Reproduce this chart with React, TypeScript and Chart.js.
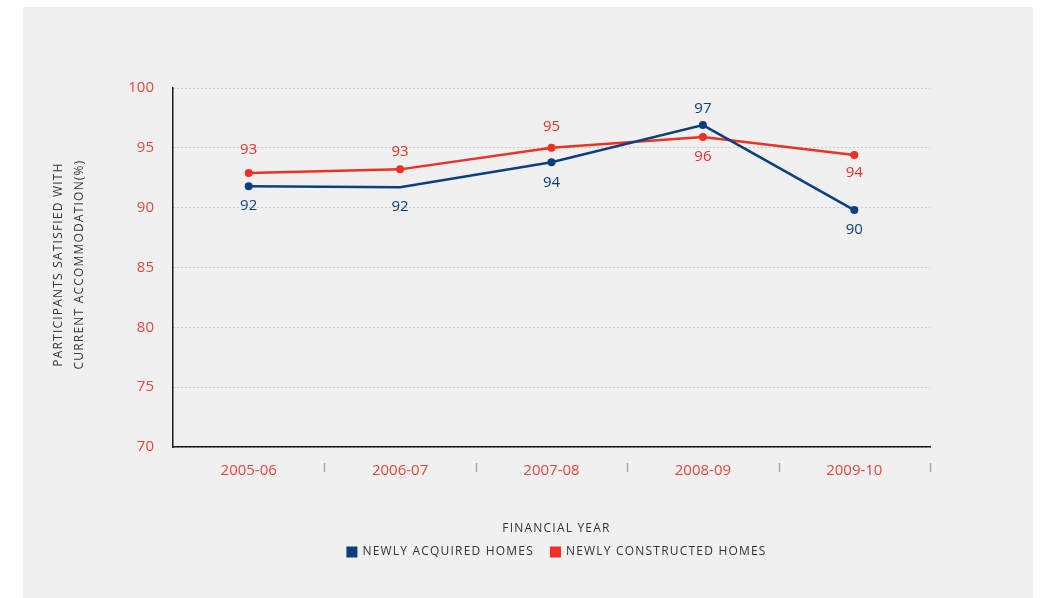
import React, { useEffect, useRef } from "react";
import { Chart, registerables } from "chart.js";

Chart.register(...registerables);

const categories = ["2005-06", "2006-07", "2007-08", "2008-09", "2009-10"];
const acquiredValues = [91.8, 91.7, 93.8, 96.9, 89.8];
const constructedValues = [92.9, 93.2, 95.0, 95.9, 94.4];
const acquiredLabels = ["92", "92", "94", "97", "90"];
const constructedLabels = ["93", "93", "95", "96", "94"];
const yTicks = [70, 75, 80, 85, 90, 95, 100];
const seriesNames = ["NEWLY ACQUIRED HOMES", "NEWLY CONSTRUCTED HOMES"];
const yTitleLines = ["PARTICIPANTS SATISFIED WITH", "CURRENT ACCOMMODATION(%)"];
const xTitle = "FINANCIAL YEAR";

// style: label offsets in pixels (negative = above the point), marker sizes
const acquiredLabelOffset = [20, 19, 21, -16, 20];
const constructedLabelOffset = [-23, -18, -21, 20, 18];
const acquiredPointRadius = [4, 0, 4, 4, 4];

const BLUE = "#0b3f7f";
const RED = "#ee3124";
const TICK_RED = "#e8453c";
const FONT = "'Open Sans', 'Noto Sans', sans-serif";

const extrasPlugin = {
  id: "extras",
  afterDatasetsDraw(chart: any) {
    const ctx = chart.ctx;
    const labelsets = [
      { labels: acquiredLabels, off: acquiredLabelOffset, color: BLUE },
      { labels: constructedLabels, off: constructedLabelOffset, color: RED },
    ];
    ctx.save();
    ctx.font = `15px ${FONT}`;
    ctx.textAlign = "center";
    ctx.textBaseline = "middle";
    chart.data.datasets.forEach((ds: any, di: number) => {
      const meta = chart.getDatasetMeta(di);
      const ls = labelsets[di];
      meta.data.forEach((pt: any, i: number) => {
        ctx.fillStyle = ls.color;
        ctx.fillText(ls.labels[i], pt.x, pt.y + ls.off[i]);
      });
    });
    ctx.restore();
  },
  afterDraw(chart: any) {
    const ctx = chart.ctx;
    const area = chart.chartArea;
    const xs = chart.scales.x;
    ctx.save();
    // separators between categories
    ctx.strokeStyle = "#a8a8a8";
    ctx.lineWidth = 1.5;
    for (let i = 0; i < categories.length; i++) {
      const x =
        i < categories.length - 1
          ? (xs.getPixelForValue(i) + xs.getPixelForValue(i + 1)) / 2
          : area.right;
      ctx.beginPath();
      ctx.moveTo(Math.round(x) + 0.5, area.bottom + 16);
      ctx.lineTo(Math.round(x) + 0.5, area.bottom + 25);
      ctx.stroke();
    }
    // y title
    ctx.fillStyle = "#333";
    ctx.font = `12px ${FONT}`;
    (ctx as any).letterSpacing = "1.2px";
    ctx.textAlign = "center";
    ctx.textBaseline = "middle";
    const cy = (area.top + area.bottom) / 2 - 3;
    ctx.save();
    ctx.translate(36, cy);
    ctx.rotate(-Math.PI / 2);
    ctx.fillText(yTitleLines[0], 0, 0);
    ctx.restore();
    ctx.save();
    ctx.translate(57, cy);
    ctx.rotate(-Math.PI / 2);
    ctx.fillText(yTitleLines[1], 0, 0);
    ctx.restore();
    // x title
    const cx = (area.left + area.right) / 2 + 5;
    ctx.fillText(xTitle, cx, area.bottom + 82);
    // legend
    const box = 11;
    const gapBoxText = 5;
    const gapItems = 16;
    const widths = seriesNames.map((s) => ctx.measureText(s).width);
    const total = widths.reduce((a, w) => a + box + gapBoxText + w, 0) + gapItems;
    let x = cx - total / 2;
    const ly = area.bottom + 105;
    const colors = [BLUE, RED];
    ctx.textAlign = "left";
    seriesNames.forEach((s, i) => {
      ctx.fillStyle = colors[i];
      ctx.fillRect(x, ly - box / 2, box, box);
      x += box + gapBoxText;
      ctx.fillStyle = "#333";
      ctx.fillText(s, x, ly);
      x += widths[i] + gapItems;
    });
    ctx.restore();
  },
};

export default function App() {
  const ref = useRef<HTMLCanvasElement>(null);
  useEffect(() => {
    document.body.style.margin = "0";
    document.body.style.background = "#ffffff";
    const chart = new Chart(ref.current as HTMLCanvasElement, {
      type: "line",
      data: {
        labels: categories,
        datasets: [
          {
            label: seriesNames[0],
            data: acquiredValues,
            borderColor: BLUE,
            backgroundColor: BLUE,
            borderWidth: 2.5,
            pointRadius: acquiredPointRadius,
            pointHoverRadius: acquiredPointRadius,
            pointBackgroundColor: BLUE,
            pointBorderWidth: 0,
            tension: 0,
          },
          {
            label: seriesNames[1],
            data: constructedValues,
            borderColor: RED,
            backgroundColor: RED,
            borderWidth: 2.5,
            pointRadius: 4,
            pointBackgroundColor: RED,
            pointBorderWidth: 0,
            tension: 0,
          },
        ],
      },
      options: {
        animation: false,
        responsive: false,
        layout: { padding: { left: 0, right: 103, top: 81, bottom: 0 } },
        plugins: {
          legend: { display: false },
          tooltip: { enabled: false },
          title: { display: false },
        },
        scales: {
          x: {
            offset: true,
            grid: { display: false, drawTicks: false },
            border: { display: true, color: "#1a1a1a", width: 1.5 },
            ticks: { color: TICK_RED, font: { size: 15, family: FONT }, padding: 15 },
            afterFit(scale: any) {
              scale.height = 151;
            },
          },
          y: {
            min: 70,
            max: 100,
            afterBuildTicks(scale: any) {
              scale.ticks = yTicks.map((v) => ({ value: v }));
            },
            grid: {
              color: "#a0a0a0",
              lineWidth: 1,
              drawTicks: false,
            },
            border: { display: true, color: "#1a1a1a", width: 1.5, dash: [1, 3] },
            ticks: { color: TICK_RED, font: { size: 15, family: FONT }, padding: 19 },
            afterFit(scale: any) {
              scale.width = 150;
            },
          },
        },
      },
      plugins: [extrasPlugin],
    } as any);
    return () => chart.destroy();
  }, []);
  return (
    <div
      style={{
        position: "absolute",
        left: 23,
        top: 7,
        width: 1010,
        height: 591,
        background: "#f0f0f0",
      }}
    >
      <canvas ref={ref} width={1010} height={591} style={{ display: "block" }} />
    </div>
  );
}
